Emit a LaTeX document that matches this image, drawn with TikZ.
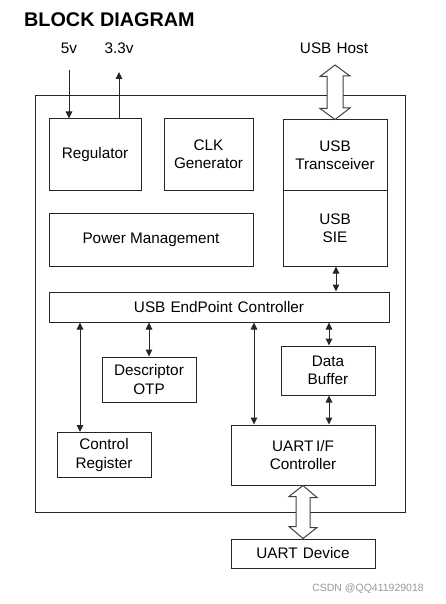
\documentclass[tikz,border=0pt]{standalone}
\usepackage{fontspec}
\setmainfont{Liberation Sans}
\usetikzlibrary{arrows.meta,calc}
\tikzset{
  box/.style={draw=black!85, line width=1pt, fill=white, align=center, inner sep=0pt,
    font=\fontsize{15.3}{18.3}\selectfont},
  lbl/.style={inner sep=0pt, font=\fontsize{15.3}{18.3}\selectfont},
  link/.style={draw=black!85, line width=1pt, {Triangle[length=7pt,width=6.5pt]}-{Triangle[length=7pt,width=6.5pt]}},
  onelink/.style={draw=black!85, line width=1pt, -{Triangle[length=7pt,width=6.5pt]}},
  hollow/.style={draw=black!75, line width=1pt, fill=white, line join=miter},
}
\begin{document}
\begin{tikzpicture}[x=1pt,y=-1pt]
\useasboundingbox[fill=white] (0,0) rectangle (445,604);

\node[anchor=base west, inner sep=0pt, font=\fontsize{19.8}{22}\selectfont\bfseries] (title) at (24,27) {BLOCK DIAGRAM};

% outer frame
\node[draw=black!85, line width=1pt, minimum width=370, minimum height=416, inner sep=0pt] (chip) at (220,304) {};

% blocks
\node[box, minimum width=92, minimum height=71] (reg) at (95,154.5) {Regulator};
\node[box, minimum width=89, minimum height=71] (clk) at (208.5,154.5) {CLK\\Generator};
\node[box, minimum width=104, minimum height=70] (trans) at (335,155) {USB\\Transceiver};
\node[box, minimum width=104, minimum height=76] (sie) at (335,228) {USB\\SIE};
\node[box, minimum width=204, minimum height=53] (pm) at (151,239.5) {Power Management};
\node[box, minimum width=340, minimum height=30] (ep) at (219,307) {USB\,\,EndPoint\,\,Controller};
\node[box, minimum width=94, minimum height=45] (otp) at (149,379.5) {Descriptor\\OTP};
\node[box, minimum width=94, minimum height=49] (buf) at (328,370.5) {Data\\Buffer};
\node[box, minimum width=94, minimum height=45] (creg) at (104,455) {Control\\Register};
\node[box, minimum width=144, minimum height=60] (uart) at (303,455) {UART\,I/F\\Controller};
\node[box, minimum width=144, minimum height=29] (dev) at (303,553.5) {UART\,\,Device};

% external labels
\node[lbl] (v5) at (69,48) {5v};
\node[lbl] (v33) at (119,48) {3.3v};
\node[lbl] (host) at (334,48) {USB\,\,Host};

% power arrows
\coordinate (v5s) at (69,70);
\coordinate (v33e) at (119,72);
\draw[onelink] (v5s) -- (v5s |- reg.north);
\draw[onelink] (v33e |- reg.north) -- (v33e);

% internal connections
\draw[link] (336,0 |- sie.south) -- (336,0 |- ep.north);
\draw[link] (80,0 |- ep.south) -- (80,0 |- creg.north);
\draw[link] (149,0 |- ep.south) -- (otp.north);
\draw[link] (254,0 |- ep.south) -- (254,0 |- uart.north);
\draw[link] (329,0 |- ep.south) -- (329,0 |- buf.north);
\draw[link] (329,0 |- buf.south) -- (329,0 |- uart.north);

% hollow double arrows
\coordinate (hosttip) at (335,65);
\path[hollow] (hosttip) -- ++(15,11) -- ++(-7,0) -- ++(0,32) -- ++(7,0)
  -- (335,0 |- trans.north) -- ++(-15,-11) -- ++(7,0) -- ++(0,-32) -- ++(-7,0) -- cycle;
\coordinate (uarttip) at (303,0 |- uart.south);
\path[hollow] (uarttip) -- ++(14,12) -- ++(-7,0) -- ++(0,30) -- ++(7,0)
  -- (303,0 |- dev.north) -- ++(-14,-12) -- ++(7,0) -- ++(0,-30) -- ++(-7,0) -- cycle;

% watermark
\node[inner sep=0pt, text=black!40, font=\fontsize{10.5}{12}\selectfont] (wm) at (368,589) {CSDN @QQ411929018};
\end{tikzpicture}
\end{document}
